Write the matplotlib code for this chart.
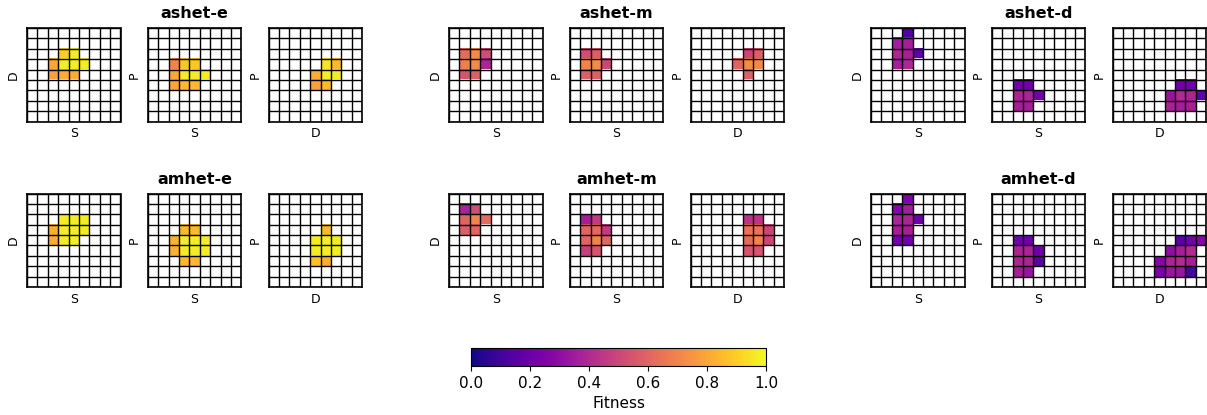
import numpy as np
import matplotlib
matplotlib.use("Agg")
import matplotlib.pyplot as plt

# ---- data ----
group_titles = ["ashet-e", "ashet-m", "ashet-d", "amhet-e", "amhet-m", "amhet-d"]
axis_pairs = [("S", "D"), ("S", "P"), ("D", "P")]   # (xlabel, ylabel)
grid_size = 9

# cells: (row from top, column, fitness)
ashet_e_SD = [(2, 3, 0.90), (2, 4, 0.97), (3, 2, 0.80), (3, 3, 0.97), (3, 4, 0.97), (3, 5, 0.97),
              (4, 2, 0.78), (4, 3, 0.82), (4, 4, 0.82)]
ashet_e_SP = [(3, 2, 0.70), (3, 3, 0.88), (3, 4, 0.88), (4, 2, 0.80), (4, 3, 0.97), (4, 4, 0.97),
              (4, 5, 0.97), (5, 2, 0.80), (5, 3, 0.85), (5, 4, 0.85)]
ashet_e_DP = [(3, 5, 0.95), (3, 6, 0.85), (4, 4, 0.82), (4, 5, 0.97), (4, 6, 0.97),
              (5, 4, 0.78), (5, 5, 0.85)]
ashet_m_SD = [(2, 1, 0.62), (2, 2, 0.72), (2, 3, 0.52), (3, 1, 0.68), (3, 2, 0.72), (3, 3, 0.38),
              (4, 1, 0.55), (4, 2, 0.58)]
ashet_m_SP = [(2, 1, 0.52), (2, 2, 0.58), (3, 1, 0.70), (3, 2, 0.72), (3, 3, 0.50),
              (4, 1, 0.58), (4, 2, 0.58)]
ashet_m_DP = [(2, 5, 0.50), (2, 6, 0.58), (3, 4, 0.60), (3, 5, 0.72), (3, 6, 0.72), (4, 5, 0.58)]
ashet_d_SD = [(0, 3, 0.13), (1, 2, 0.36), (1, 3, 0.36), (2, 2, 0.39), (2, 3, 0.36), (2, 4, 0.17),
              (3, 2, 0.36), (3, 3, 0.39)]
ashet_d_SP = [(5, 2, 0.22), (5, 3, 0.22), (6, 2, 0.38), (6, 3, 0.38), (6, 4, 0.22),
              (7, 2, 0.36), (7, 3, 0.36)]
ashet_d_DP = [(5, 6, 0.22), (5, 7, 0.22), (6, 5, 0.32), (6, 6, 0.40), (6, 7, 0.38), (6, 8, 0.16),
              (7, 5, 0.37), (7, 6, 0.36), (7, 7, 0.36)]
amhet_e_SD = [(2, 3, 0.97), (2, 4, 0.97), (2, 5, 0.97), (3, 2, 0.82), (3, 3, 0.97), (3, 4, 0.97),
              (3, 5, 0.97), (4, 2, 0.82), (4, 3, 0.97), (4, 4, 0.97)]
amhet_e_SP = [(3, 3, 0.85), (3, 4, 0.85), (4, 2, 0.83), (4, 3, 0.97), (4, 4, 0.97), (4, 5, 0.97),
              (5, 2, 0.83), (5, 3, 0.97), (5, 4, 0.97), (5, 5, 0.97), (6, 3, 0.85), (6, 4, 0.85)]
amhet_e_DP = [(3, 5, 0.85), (4, 4, 0.97), (4, 5, 0.97), (4, 6, 0.97), (5, 4, 0.97), (5, 5, 0.97),
              (5, 6, 0.97), (6, 4, 0.87), (6, 5, 0.82)]
amhet_m_SD = [(1, 1, 0.37), (1, 2, 0.52), (2, 1, 0.60), (2, 2, 0.70), (2, 3, 0.62),
              (3, 1, 0.58), (3, 2, 0.60)]
amhet_m_SP = [(2, 1, 0.36), (2, 2, 0.46), (3, 1, 0.60), (3, 2, 0.62), (3, 3, 0.46),
              (4, 1, 0.60), (4, 2, 0.70), (4, 3, 0.60), (5, 1, 0.48), (5, 2, 0.55)]
amhet_m_DP = [(2, 5, 0.44), (2, 6, 0.44), (3, 5, 0.65), (3, 6, 0.65), (3, 7, 0.50),
              (4, 5, 0.62), (4, 6, 0.70), (4, 7, 0.50), (5, 5, 0.55), (5, 6, 0.55)]
amhet_d_SD = [(0, 3, 0.26), (1, 2, 0.27), (1, 3, 0.36), (2, 2, 0.38), (2, 3, 0.38), (2, 4, 0.21),
              (3, 2, 0.36), (3, 3, 0.36), (4, 2, 0.22), (4, 3, 0.22)]
amhet_d_SP = [(4, 2, 0.22), (4, 3, 0.22), (5, 2, 0.38), (5, 3, 0.38), (5, 4, 0.21),
              (6, 2, 0.38), (6, 3, 0.38), (6, 4, 0.16), (7, 2, 0.36), (7, 3, 0.33)]
amhet_d_DP = [(4, 6, 0.16), (4, 7, 0.22), (4, 8, 0.27), (5, 5, 0.30), (5, 6, 0.36), (5, 7, 0.40),
              (6, 4, 0.27), (6, 5, 0.38), (6, 6, 0.40), (6, 7, 0.36),
              (7, 4, 0.24), (7, 5, 0.33), (7, 6, 0.33), (7, 7, 0.11)]

group_cells = [
    [ashet_e_SD, ashet_e_SP, ashet_e_DP],
    [ashet_m_SD, ashet_m_SP, ashet_m_DP],
    [ashet_d_SD, ashet_d_SP, ashet_d_DP],
    [amhet_e_SD, amhet_e_SP, amhet_e_DP],
    [amhet_m_SD, amhet_m_SP, amhet_m_DP],
    [amhet_d_SD, amhet_d_SP, amhet_d_DP],
]

colorbar_ticks = [0.0, 0.2, 0.4, 0.6, 0.8, 1.0]

# ---- figure ----
W, H = 1207, 415
fig = plt.figure(figsize=(W / 100, H / 100), dpi=100)
cmap = plt.get_cmap("plasma").copy()
cmap.set_bad("white")
norm = matplotlib.colors.Normalize(0, 1)

group_left = [27, 449, 871]
panel_step = 120.8
row_top = [28, 193.5]
size = 93.5

for g, (title, cells3) in enumerate(zip(group_titles, group_cells)):
    gr, gc = divmod(g, 3)
    for p, cells in enumerate(cells3):
        x0 = group_left[gc] + p * panel_step
        y0 = row_top[gr]
        ax = fig.add_axes([x0 / W, 1 - (y0 + size) / H, size / W, size / H])
        arr = np.full((grid_size, grid_size), np.nan)
        for r, c, v in cells:
            arr[r, c] = v
        ax.imshow(np.ma.masked_invalid(arr), cmap=cmap, norm=norm,
                  interpolation="nearest", aspect="auto")
        ax.hlines(np.arange(grid_size + 1) - 0.5, -0.5, grid_size - 0.5, colors="black", lw=1.0)
        ax.vlines(np.arange(grid_size + 1) - 0.5, -0.5, grid_size - 0.5, colors="black", lw=1.0)
        ax.set_xlim(-0.5, grid_size - 0.5)
        ax.set_ylim(grid_size - 0.5, -0.5)
        ax.set_xticks([])
        ax.set_yticks([])
        for s in ax.spines.values():
            s.set_linewidth(1.2)
        xl, yl = axis_pairs[p]
        ax.set_xlabel(xl, fontsize=9, labelpad=4)
        ax.set_ylabel(yl, fontsize=9, labelpad=5)
        if p == 1:
            ax.set_title(title, fontsize=11.5, fontweight="bold", pad=7)

cax = fig.add_axes([471 / W, 1 - 366 / H, 295 / W, 18 / H])
cb = fig.colorbar(matplotlib.cm.ScalarMappable(norm=norm, cmap="plasma"), cax=cax,
                  orientation="horizontal", ticks=colorbar_ticks)
cb.ax.tick_params(labelsize=11)
cb.set_label("Fitness", fontsize=11)

fig.savefig("out.png", dpi=100)
